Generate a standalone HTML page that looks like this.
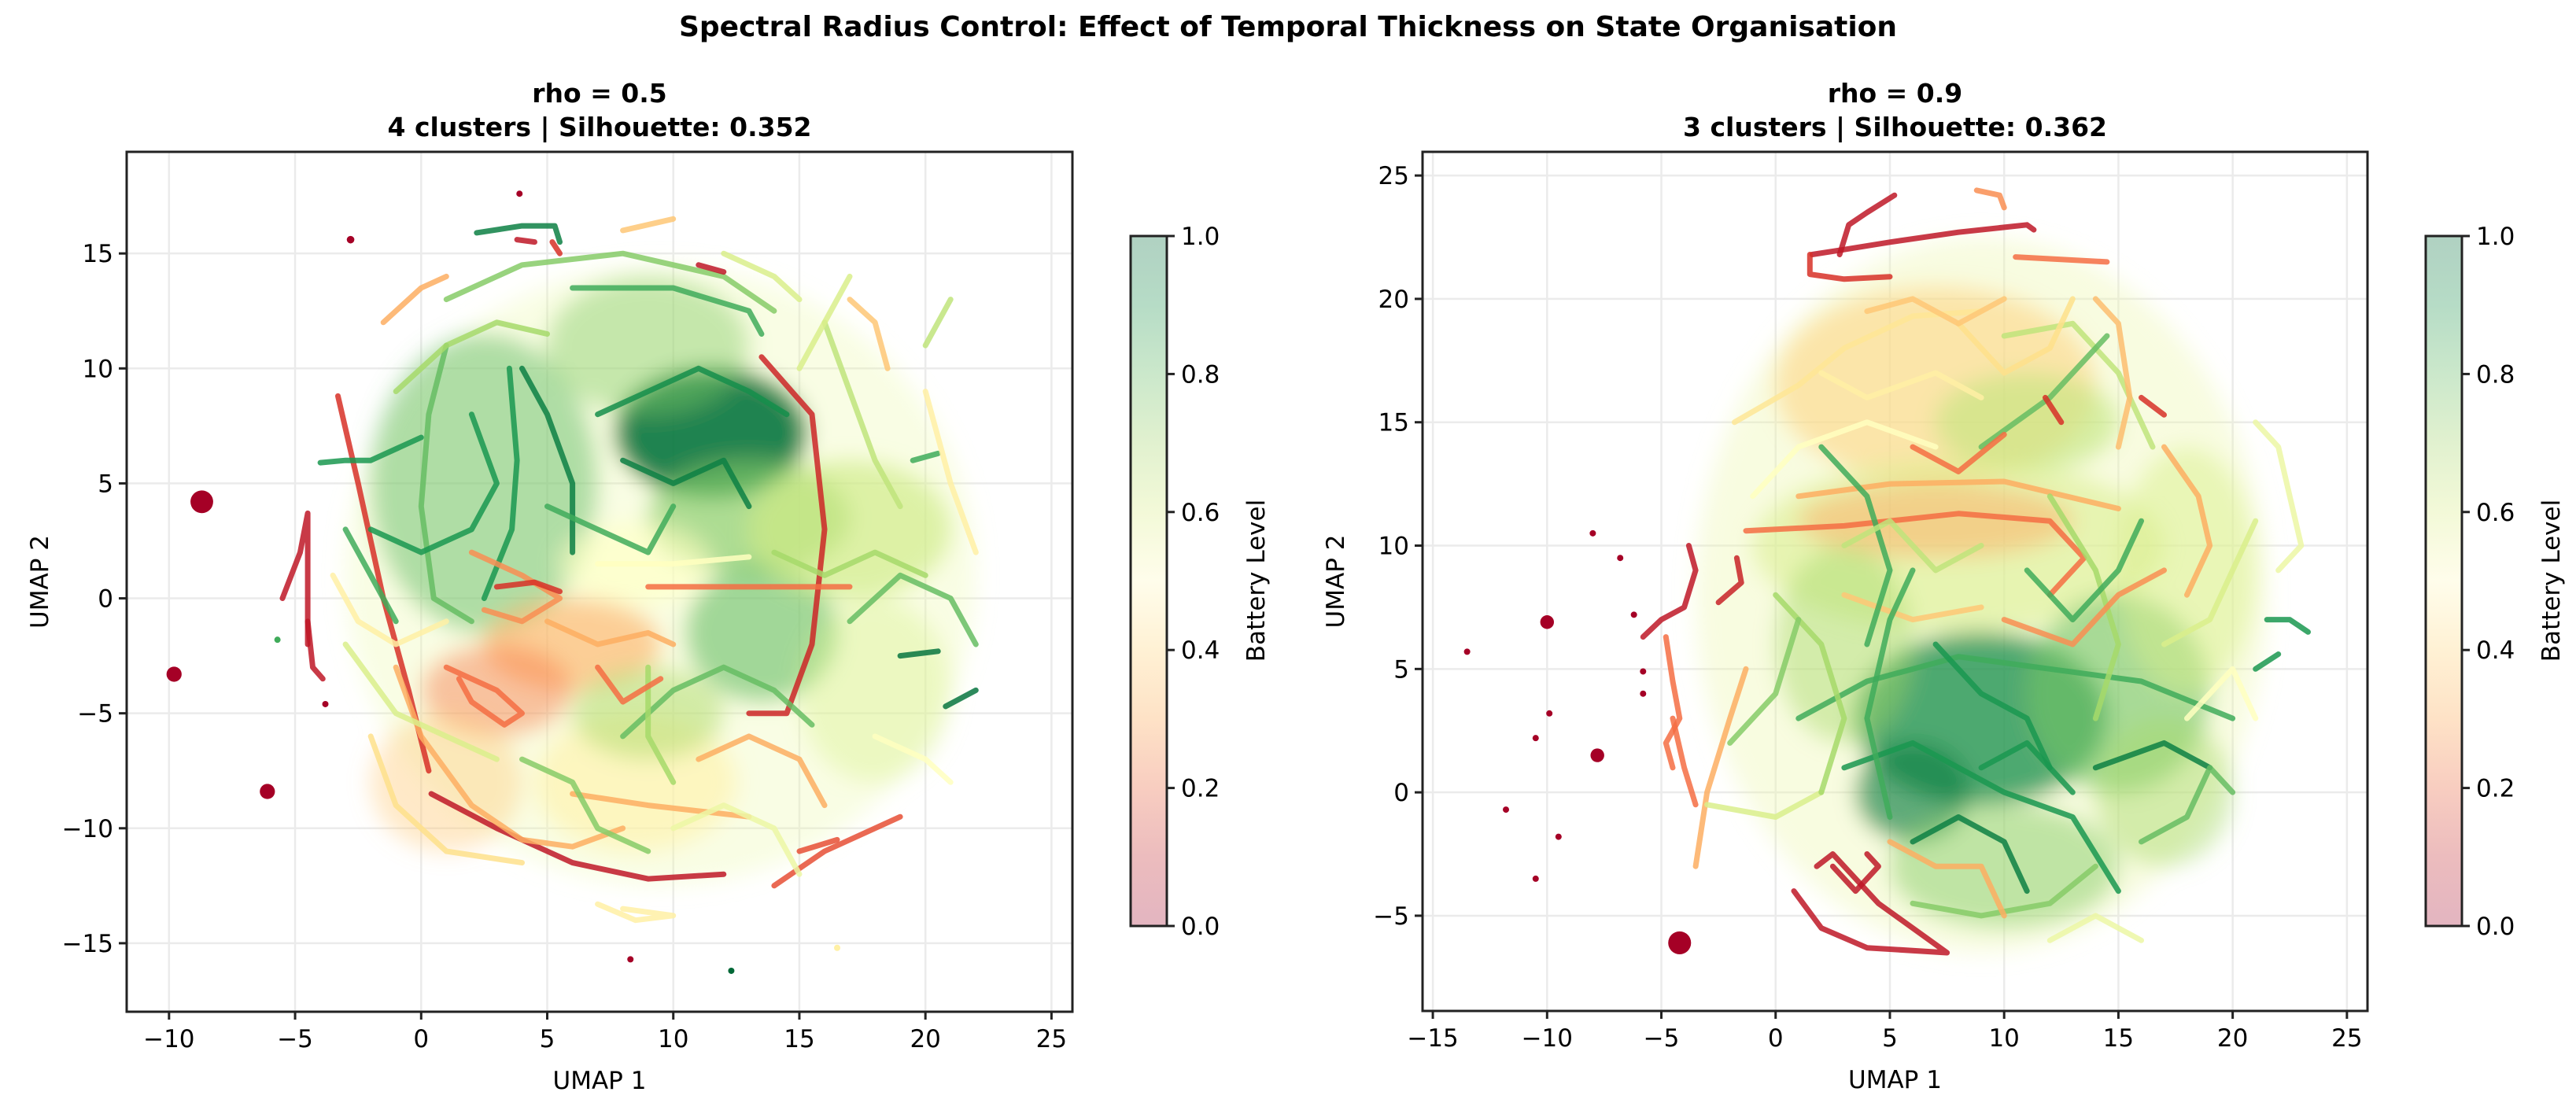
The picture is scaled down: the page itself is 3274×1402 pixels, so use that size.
<!DOCTYPE html>
<html><head><meta charset="utf-8"><style>
html,body{margin:0;padding:0;background:#fff;}
svg{display:block;font-family:"DejaVu Sans","Liberation Sans",sans-serif;}
</style></head><body>
<svg id="fig" width="3274" height="1402" viewBox="0 0 3274 1402" xmlns="http://www.w3.org/2000/svg">
<defs>
<filter id="blur" x="-50%" y="-50%" width="200%" height="200%"><feGaussianBlur stdDeviation="14"/></filter>
<linearGradient id="cbgrad" x1="0" y1="1" x2="0" y2="0">
<stop offset="0" stop-color="#e3b5c0"/><stop offset="0.1" stop-color="#ecbcbe"/><stop offset="0.2" stop-color="#f8cdc0"/><stop offset="0.3" stop-color="#fee2c6"/><stop offset="0.4" stop-color="#fff1d4"/><stop offset="0.5" stop-color="#fffdeb"/><stop offset="0.6" stop-color="#f3f9d8"/><stop offset="0.7" stop-color="#e1f1cf"/><stop offset="0.8" stop-color="#cbe8cb"/><stop offset="0.9" stop-color="#b6dcc6"/><stop offset="1" stop-color="#b0d1c2"/>
</linearGradient>
</defs>
<text x="1637" y="46" text-anchor="middle" font-size="36" font-weight="bold">Spectral Radius Control: Effect of Temporal Thickness on State Organisation</text>
<g id="left"></g>
<g id="right"></g>
</svg>
<script>
// ---------- data ----------
const leftTitle = ["rho = 0.5", "4 clusters | Silhouette: 0.352"];
const rightTitle = ["rho = 0.9", "3 clusters | Silhouette: 0.362"];
const leftXTicks = [-10,-5,0,5,10,15,20,25];
const leftYTicks = [-15,-10,-5,0,5,10,15];
const rightXTicks = [-15,-10,-5,0,5,10,15,20,25];
const rightYTicks = [-5,0,5,10,15,20,25];
const cbTicks = [0,0.2,0.4,0.6,0.8,1.0];
// clouds: [cx, cy, rx, ry, battery, opacity]
const leftClouds = [
 [9.5,1,12.5,13.5,0.55,0.3],[2.5,5,4.5,6.5,0.8,0.5],[11.5,7.2,3.8,2.8,0.97,0.9],[13,3.5,4,2.5,0.75,0.65],
 [13.5,-1.5,3,3,0.8,0.6],[17,3,4,3,0.62,0.65],[8.5,1.5,3,1.8,0.5,0.6],[6,-2,3.5,2,0.3,0.6],
 [8.5,-8,4,3,0.45,0.6],[9,-5,3,2,0.68,0.55],[3,-4,3,2,0.22,0.45],[9,11,4,3,0.75,0.45],[18,-4,3,4,0.6,0.4],[1,-8,3,3,0.35,0.4]
];
const rightClouds = [
 [9,8,12.5,14.5,0.55,0.35],[7,16.5,7,4,0.38,0.6],[11,15,4,2,0.65,0.6],[8,10,9,3.5,0.6,0.55],
 [9,3,5.5,3.5,0.92,0.75],[6,0,2.5,2,0.95,0.65],[15,4,4,4,0.78,0.6],[18,9,3,5,0.6,0.5],[7,11,6,1.5,0.3,0.5],
 [3,6,3,4,0.7,0.45],[10,-3,5,2.5,0.75,0.5],[17,0,3,3,0.7,0.45]
];
// trails: [battery, x1,y1, x2,y2, ...]
const leftTrails = [
 [0.95,2.2,15.9,4,16.2,5.3,16.2,5.5,15.5],
 [0.05,0.4,-8.5,3,-10,6,-11.5,9,-12.2,12,-12],
 [0.05,-5.5,0,-4.8,2,-4.5,3.7,-4.5,0,-4.5,-2],
 [0.05,-4.5,-1,-4.3,-3,-3.9,-3.5],
 [0.1,-3.3,8.8,-2.5,5,-1.5,0,-0.5,-4,0.3,-7.5],
 [0.08,13.5,10.5,15.5,8,16,3,15.5,-2,14.5,-5,13,-5],
 [0.75,1,13,4,14.5,8,15,12,14,14,12.5],
 [0.85,6,13.5,10,13.5,13,12.5,13.5,11.5],
 [0.9,0,7,-2,6,-3,6,-4,5.9],
 [0.9,3.5,10,3.8,6,3.6,3,2.5,0],
 [0.8,1,11,0.3,8,0,4,0.5,0,2,-1],
 [0.95,4,10,5,8,6,5,6,2],
 [0.2,1,-3,3,-4,4,-5,3.3,-5.5,2,-4.5,1.5,-3.5],
 [0.3,-1,-3,0,-6,2,-9,4,-10.5,6,-10.8,8,-10],
 [0.3,6,-8.5,9,-9,13,-9.5],
 [0.45,7,-13.3,8.5,-14,10,-13.8,8,-13.5],
 [0.15,14,-12.5,16,-11,19,-9.5],
 [0.15,15,-11,16.5,-10.5],
 [0.97,19,-2.5,20.5,-2.3],
 [0.97,20.8,-4.7,22,-4],
 [0.85,19.5,6,20.5,6.3],
 [0.5,7,1.5,10,1.5,13,1.8],
 [0.2,9,0.5,14,0.5,17,0.5],
 [0.3,5,-1,7,-2,9,-1.5,10,-2],
 [0.45,20,9,21,5,22,2],
 [0.35,8,16,10,16.5],
 [0.1,5.2,15.5,5.5,15],
 [0.05,3.8,15.6,4.5,15.5],
 [0.05,11,14.5,12,14.2],
 [0.8,8,-6,10,-4,12,-3,14,-4,15.5,-5.5],
 [0.7,9,-3,9,-6,10,-8],
 [0.25,2,2,4,1,5.5,0,4,-1,2.5,-0.5],
 [0.1,3,0.5,4.5,0.7,5.5,0.3],
 [0.92,7,8,9,9,11,10,13,9,14.5,8],
 [0.65,16,12,17,9,18,6,19,4],
 [0.35,17,13,18,12,18.5,10],
 [0.7,-1,9,1,11,3,12,5,11.5],
 [0.9,-2,3,0,2,2,3,3,5,2,8],
 [0.6,-3,-2,-1,-5,1,-6,3,-7],
 [0.4,-2,-6,-1,-9,1,-11,4,-11.5],
 [0.75,4,-7,6,-8,7,-10,9,-11],
 [0.55,10,-10,12,-9,14,-10,15,-12],
 [0.6,15,10,16,12,17,14],
 [0.8,17,-1,19,1,21,0,22,-2],
 [0.5,18,-6,20,-7,21,-8],
 [0.65,20,11,21,13],
 [0.3,11,-7,13,-6,15,-7,16,-9],
 [0.85,5,4,7,3,9,2,10,4],
 [0.95,8,6,10,5,12,6,13,4],
 [0.7,14,2,16,1,18,2,20,1],
 [0.2,7,-3,8,-4.5,9.5,-3.5],
 [0.45,1,-1,-1,-2,-2.5,-1,-3.5,1],
 [0.85,-3,3,-2,1,-1,-1],
 [0.6,12,15,14,14,15,13],
 [0.3,-1.5,12,0,13.5,1,14]
];
const rightTrails = [
 [0.05,1.6,21.8,3,22,5,22.3,8,22.7,11,23,11.3,22.8],
 [0.05,2.8,21.8,3.2,23,4,23.5,5.2,24.2],
 [0.1,1.5,21.8,1.5,21,3,20.8,5,20.9],
 [0.25,8.8,24.4,9.8,24.2,10,23.7],
 [0.2,10.5,21.7,14.5,21.5],
 [0.05,0.8,-4,2,-5.5,4,-6.3,7.5,-6.5,4.5,-4.5,2.5,-2.5,1.8,-3],
 [0.05,2.5,-3,3.5,-4,4.5,-3,4,-2.5],
 [0.05,-5.8,6.3,-5,7,-4,7.5,-3.5,9,-3.8,10],
 [0.07,-2.5,7.7,-1.5,8.5,-1.7,9.5],
 [0.2,-4.8,6.3,-4.5,4.5,-4.2,3,-4.8,2,-4.5,1],
 [0.2,-4.5,3,-4,1,-3.5,-0.5],
 [0.3,-1.3,5,-2,3,-3,0,-3.5,-3],
 [0.2,-1.3,10.6,3,10.8,8,11.3,12,11,13.5,9.5,12,8],
 [0.3,1,12,5,12.5,10,12.6,15,11.5],
 [0.42,-1.8,15,1,16.5,3,18,6,19.3,9,19.5],
 [0.65,10,18.5,13,19,15,17,16.5,14],
 [0.33,14,20,15,19,15.5,16,15,14],
 [0.8,9,14,12,16,14.5,18.5],
 [0.55,21,15,22,14,22.5,12,23,10,22,9],
 [0.9,21.5,7,22.5,7,23.3,6.5],
 [0.9,21,5,22,5.6],
 [0.85,1,3,4,4.5,8,5.5,12,5,16,4.5,20,3],
 [0.9,3,1,6,2,10,0,13,-1,15,-4],
 [0.75,6,-4.5,9,-5,12,-4.5,14,-3],
 [0.6,-3,-0.5,0,-1,2,0],
 [0.35,3,8,6,7,9,7.5],
 [0.85,5,-1,4,3,5,7,6,9],
 [0.7,12,12,14,9,15,6,14,3],
 [0.95,14,1,17,2,19,1],
 [0.3,17,14,18.5,12,19,10,18,8],
 [0.1,11.8,16,12.5,15],
 [0.1,16,16,17,15.3],
 [0.85,2,14,4,12,5,9,4,6],
 [0.4,8,19,10,17,12,18,13,20],
 [0.7,0,8,2,6,3,3,2,0],
 [0.5,-1,12,1,14,4,15,7,14],
 [0.45,2,17,4,16,7,17,9,16],
 [0.35,4,19.5,6,20,8,19,10,20],
 [0.9,7,6,9,4,11,3,12,1],
 [0.95,6,-2,8,-1,10,-2,11,-4],
 [0.8,16,-2,18,-1,19,1,20,0],
 [0.6,17,6,19,7,20,9,21,11],
 [0.25,10,7,13,6,15,8,17,9],
 [0.75,-2,2,0,4,1,7],
 [0.55,12,-6,14,-5,16,-6],
 [0.3,5,-2,7,-3,9,-3,10,-5],
 [0.85,11,9,13,7,15,9,16,11],
 [0.65,3,10,5,11,7,9,9,10],
 [0.9,9,1,11,2,13,0],
 [0.5,18,3,20,5,21,3],
 [0.2,6,14,8,13,10,14.5]
];
// blobs / isolated points: [x, y, radiusData, battery]
const leftBlobs = [[-8.7,4.2,0.45,0],[-9.8,-3.3,0.3,0],[-6.1,-8.4,0.3,0],[-2.8,15.6,0.15,0],[3.9,17.6,0.1,0],[8.3,-15.7,0.1,0],[12.3,-16.2,0.1,1],[16.5,-15.2,0.1,0.45],[-5.7,-1.8,0.12,0.85],[-3.8,-4.6,0.1,0]];
const rightBlobs = [[-4.2,-6.1,0.5,0],[-10,6.9,0.3,0],[-7.8,1.5,0.3,0],[-13.5,5.7,0.1,0],[-11.8,-0.7,0.1,0],[-10.5,-3.5,0.1,0],[-10.5,2.2,0.1,0],[-9.9,3.2,0.1,0],[-9.5,-1.8,0.12,0],[-8,10.5,0.1,0],[-6.8,9.5,0.1,0],[-6.2,7.2,0.1,0],[-5.8,4.9,0.1,0],[-5.8,4.0,0.1,0]];

// ---------- rendering ----------
const NS = "http://www.w3.org/2000/svg";
const cmapStops = ["#a50026","#d73027","#f46d43","#fdae61","#fee08b","#ffffbf","#d9ef8b","#a6d96a","#66bd63","#1a9850","#006837"];
function hex(c){return [parseInt(c.slice(1,3),16),parseInt(c.slice(3,5),16),parseInt(c.slice(5,7),16)];}
function cmap(v){v=Math.max(0,Math.min(1,v));const f=v*10,i=Math.min(9,Math.floor(f)),t=f-i;const a=hex(cmapStops[i]),b=hex(cmapStops[i+1]);return "rgb("+a.map((x,k)=>Math.round(x+(b[k]-x)*t)).join(",")+")";}
function mk(tag,attrs,parent){const e=document.createElementNS(NS,tag);for(const k in attrs)e.setAttribute(k,attrs[k]);parent.appendChild(e);return e;}

function panel(g, P){
  const sx = v => P.x0 + (v - P.xmin)/(P.xmax-P.xmin)*(P.x1-P.x0);
  const sy = v => P.y1 - (v - P.ymin)/(P.ymax-P.ymin)*(P.y1-P.y0);
  const kx = (P.x1-P.x0)/(P.xmax-P.xmin), ky=(P.y1-P.y0)/(P.ymax-P.ymin);
  const cx=(P.x0+P.x1)/2;
  let t=mk("text",{x:cx,y:130,"text-anchor":"middle","font-size":33,"font-weight":"bold"},g);t.textContent=P.title[0];
  
  
  t=mk("text",{x:cx,y:173,"text-anchor":"middle","font-size":33,"font-weight":"bold"},g);t.textContent=P.title[1];
  
  
  const clipId="clip"+P.id;
  const cp=mk("clipPath",{id:clipId},g);mk("rect",{x:P.x0,y:P.y0,width:P.x1-P.x0,height:P.y1-P.y0},cp);
  P.xt.forEach(v=>{const l=mk("line",{x1:sx(v),x2:sx(v),y1:P.y0,y2:P.y1,stroke:"#ebebeb","stroke-width":2.5},g);
    
    });
  P.yt.forEach(v=>{const l=mk("line",{y1:sy(v),y2:sy(v),x1:P.x0,x2:P.x1,stroke:"#ebebeb","stroke-width":2.5},g);
    
    });
  const data=mk("g",{"clip-path":"url(#"+clipId+")"},g);
  
  
  const cg=mk("g",{filter:"url(#blur)"},data);
  P.clouds.forEach(c=>{const e=mk("ellipse",{cx:sx(c[0]),cy:sy(c[1]),rx:c[2]*kx,ry:c[3]*ky,fill:cmap(c[4]),"fill-opacity":c[5]},cg);
    
    });
  P.trails.forEach(tr=>{let d="";for(let i=1;i<tr.length;i+=2){d+=(i==1?"M":"L")+sx(tr[i]).toFixed(1)+","+sy(tr[i+1]).toFixed(1);}
    const p=mk("path",{d:d,fill:"none",stroke:cmap(tr[0]),"stroke-width":7,"stroke-linecap":"round","stroke-linejoin":"round","stroke-opacity":0.85},data);
    
    });
  P.blobs.forEach(b=>{const c=mk("circle",{cx:sx(b[0]),cy:sy(b[1]),r:Math.max(4,b[2]*kx),fill:cmap(b[3])},data);
    
    });
  const fr=mk("rect",{x:P.x0,y:P.y0,width:P.x1-P.x0,height:P.y1-P.y0,fill:"none",stroke:"#222","stroke-width":3},g);
  
  
  P.xt.forEach(v=>{mk("line",{x1:sx(v),x2:sx(v),y1:P.y1,y2:P.y1+10,stroke:"#222","stroke-width":3},g);
    const tx=mk("text",{x:sx(v),y:P.y1+45,"text-anchor":"middle","font-size":31},g);tx.textContent=v<0?"\u2212"+(-v):String(v);
    
    });
  P.yt.forEach(v=>{mk("line",{x1:P.x0-10,x2:P.x0,y1:sy(v),y2:sy(v),stroke:"#222","stroke-width":3},g);
    const tx=mk("text",{x:P.x0-17,y:sy(v)+11,"text-anchor":"end","font-size":31},g);tx.textContent=v<0?"\u2212"+(-v):String(v);
    
    });
  t=mk("text",{x:cx,y:P.y1+98,"text-anchor":"middle","font-size":31},g);t.textContent="UMAP 1";
  
  
  t=mk("text",{x:0,y:0,"text-anchor":"middle","font-size":31,transform:"translate("+(P.x0-100)+","+((P.y0+P.y1)/2)+") rotate(-90)"},g);t.textContent="UMAP 2";
  
  
  const cb=mk("g",{},g);
  
  
  mk("rect",{x:P.cbx,y:300,width:46,height:877,fill:"url(#cbgrad)",stroke:"#222","stroke-width":3},cb);
  cbTicks.forEach(v=>{const y=1177-v*877;mk("line",{x1:P.cbx+46,x2:P.cbx+56,y1:y,y2:y,stroke:"#222","stroke-width":3},cb);
    const tx=mk("text",{x:P.cbx+64,y:y+11,"font-size":31},cb);tx.textContent=v.toFixed(1);
    
    });
  t=mk("text",{x:0,y:0,"text-anchor":"middle","font-size":31,transform:"translate("+(P.cbx+170)+",738) rotate(-90)"},cb);t.textContent="Battery Level";
  
  
}
panel(document.getElementById("left"),{id:"L",x0:161,x1:1363,y0:193,y1:1286,xmin:-11.68,xmax:25.83,ymin:-17.98,ymax:19.42,
  xt:leftXTicks,yt:leftYTicks,clouds:leftClouds,trails:leftTrails,blobs:leftBlobs,cbx:1437,title:leftTitle});
panel(document.getElementById("right"),{id:"R",x0:1808,x1:3009,y0:193,y1:1285,xmin:-15.45,xmax:25.9,ymin:-8.86,ymax:25.96,
  xt:rightXTicks,yt:rightYTicks,clouds:rightClouds,trails:rightTrails,blobs:rightBlobs,cbx:3083,title:rightTitle});
</script>
</body></html>
